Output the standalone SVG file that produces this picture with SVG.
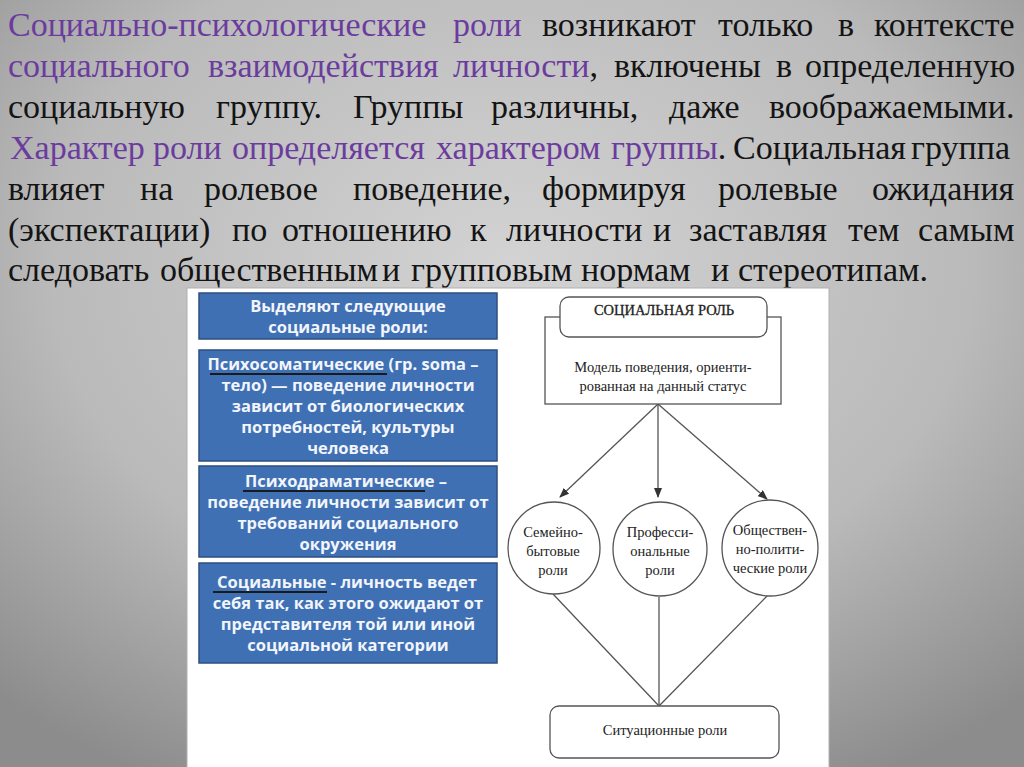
<svg xmlns="http://www.w3.org/2000/svg" width="1024" height="767" viewBox="0 0 1024 767">
<defs>
<radialGradient id="bg" cx="50%" cy="35%" r="75%">
<stop offset="0" stop-color="#d3d3d3"/>
<stop offset="0.6" stop-color="#bababa"/>
<stop offset="1" stop-color="#8c8c8c"/>
</radialGradient>
<marker id="arr" markerWidth="10" markerHeight="8" refX="9" refY="4" orient="auto" markerUnits="userSpaceOnUse">
<path d="M0,0 L10,4 L0,8 Z" fill="#333"/>
</marker>
<style>
text.w{font-family:'Liberation Serif',serif;font-size:34px;fill:#141414}
text.p{font-family:'Liberation Serif',serif;font-size:34px;fill:#6b3c9e}
.bx{fill:#4070b4;stroke:#2c4f80;stroke-width:1.5}
.bt{font-family:"Open Sans","DejaVu Sans",sans-serif;font-weight:bold;font-size:16.5px;fill:#f2f5fb;text-anchor:middle}
.ul{stroke:#1a1a1a;stroke-width:2}
.ln{stroke:#555;stroke-width:1.3;fill:none}
.nd{fill:#fff;stroke:#555;stroke-width:1.3}
.st{font-family:"Liberation Serif","Times New Roman",serif;font-size:14.5px;fill:#222;text-anchor:middle}
</style>
</defs>
<rect width="1024" height="767" fill="url(#bg)"/>
<g id="heading">
<text class="p" x="8" y="36">Социально-психологические</text>
<text class="p" x="453" y="36">роли</text>
<text class="w" x="542" y="36">возникают</text>
<text class="w" x="718" y="36">только</text>
<text class="w" x="838" y="36">в</text>
<text class="w" x="874" y="36">контексте</text>
<text class="p" x="8" y="77">социального</text>
<text class="p" x="208" y="77">взаимодействия</text>
<text class="p" x="453" y="77">личности<tspan fill="#141414">,</tspan></text>
<text class="w" x="614" y="77">включены</text>
<text class="w" x="776" y="77">в</text>
<text class="w" x="805" y="77">определенную</text>
<text class="w" x="8" y="118">социальную</text>
<text class="w" x="216" y="118">группу.</text>
<text class="w" x="353" y="118">Группы</text>
<text class="w" x="491" y="118">различны,</text>
<text class="w" x="669" y="118">даже</text>
<text class="w" x="769" y="118">воображаемыми.</text>
<text class="p" x="10" y="159">Характер</text>
<text class="p" x="153" y="159">роли</text>
<text class="p" x="232" y="159">определяется</text>
<text class="p" x="436" y="159">характером</text>
<text class="p" x="611" y="159">группы<tspan fill="#141414">.</tspan></text>
<text class="w" x="733" y="159">Социальная</text>
<text class="w" x="911" y="159">группа</text>
<text class="w" x="8" y="200">влияет</text>
<text class="w" x="140" y="200">на</text>
<text class="w" x="204" y="200">ролевое</text>
<text class="w" x="353" y="200">поведение,</text>
<text class="w" x="542" y="200">формируя</text>
<text class="w" x="718" y="200">ролевые</text>
<text class="w" x="872" y="200">ожидания</text>
<text class="w" x="8" y="241">(экспектации)</text>
<text class="w" x="232" y="241">по</text>
<text class="w" x="282" y="241">отношению</text>
<text class="w" x="470" y="241">к</text>
<text class="w" x="506" y="241">личности</text>
<text class="w" x="653" y="241">и</text>
<text class="w" x="689" y="241">заставляя</text>
<text class="w" x="848" y="241">тем</text>
<text class="w" x="918" y="241">самым</text>
<text class="w" x="8" y="281">следовать</text>
<text class="w" x="160" y="281">общественным</text>
<text class="w" x="382" y="281">и</text>
<text class="w" x="411" y="281">групповым</text>
<text class="w" x="581" y="281">нормам</text>
<text class="w" x="711" y="281">и</text>
<text class="w" x="738" y="281">стереотипам.</text>
</g>
<rect id="panel" x="187" y="288" width="642" height="480" fill="#fff" stroke="#b0b0b0" stroke-width="1"/>
<g id="box1">
<rect class="bx" x="199" y="293" width="298" height="46"/>
<text class="bt" x="348" y="312">Выделяют следующие</text>
<text class="bt" x="348" y="333">социальные роли:</text>
</g>
<g id="box2">
<rect class="bx" x="199" y="350" width="298" height="111"/>
<text class="bt" x="343" y="370">Психосоматические (гр. soma –</text>
<line class="ul" x1="210" y1="374" x2="387" y2="374"/>
<text class="bt" x="348" y="391">тело) — поведение личности</text>
<text class="bt" x="348" y="412">зависит от биологических</text>
<text class="bt" x="348" y="433">потребностей, культуры</text>
<text class="bt" x="348" y="454">человека</text>
</g>
<g id="box3">
<rect class="bx" x="199" y="466" width="298" height="91"/>
<text class="bt" x="346" y="487">Психодраматические –</text>
<line class="ul" x1="243" y1="491" x2="425" y2="491"/>
<text class="bt" x="348" y="508">поведение личности зависит от</text>
<text class="bt" x="348" y="529">требований социального</text>
<text class="bt" x="348" y="550">окружения</text>
</g>
<g id="box4">
<rect class="bx" x="199" y="563" width="298" height="100"/>
<text class="bt" x="347" y="588">Социальные - личность ведет</text>
<line class="ul" x1="213" y1="592" x2="327" y2="592"/>
<text class="bt" x="348" y="609">себя так, как этого ожидают от</text>
<text class="bt" x="348" y="630">представителя той или иной</text>
<text class="bt" x="348" y="651">социальной категории</text>
</g>
<g id="connectors">
<path class="ln" d="M658,404 L560,497" marker-end="url(#arr)"/>
<path class="ln" d="M658,404 L658,497" marker-end="url(#arr)"/>
<path class="ln" d="M658,404 L767,499" marker-end="url(#arr)"/>
<path class="ln" d="M553,594 L659,706"/>
<path class="ln" d="M659,597 L659,706"/>
<path class="ln" d="M768,595 L659,706"/>
</g>
<g id="social-role">
<rect class="nd" x="545" y="317" width="236" height="87"/>
<rect class="nd" x="560" y="297" width="207" height="40" rx="9"/>
<text class="st" x="664" y="315" style="font-size:14.5px;stroke:#222;stroke-width:0.3">СОЦИАЛЬНАЯ РОЛЬ</text>
<text class="st" x="663" y="372">Модель поведения, ориенти-</text>
<text class="st" x="663" y="391">рованная на данный статус</text>
</g>
<g id="family">
<circle class="nd" cx="554" cy="548" r="46"/>
<text class="st" x="553" y="537">Семейно-</text>
<text class="st" x="553" y="556">бытовые</text>
<text class="st" x="553" y="575">роли</text>
</g>
<g id="professional">
<circle class="nd" cx="660" cy="549" r="47"/>
<text class="st" x="660" y="537">Професси-</text>
<text class="st" x="660" y="556">ональные</text>
<text class="st" x="660" y="575">роли</text>
</g>
<g id="political">
<circle class="nd" cx="770" cy="548" r="48"/>
<text class="st" x="770" y="535">Обществен-</text>
<text class="st" x="770" y="554">но-полити-</text>
<text class="st" x="770" y="573">ческие роли</text>
</g>
<g id="situational">
<rect class="nd" x="550" y="706" width="229" height="52" rx="9"/>
<text class="st" x="665" y="735">Ситуационные роли</text>
</g>
</svg>
